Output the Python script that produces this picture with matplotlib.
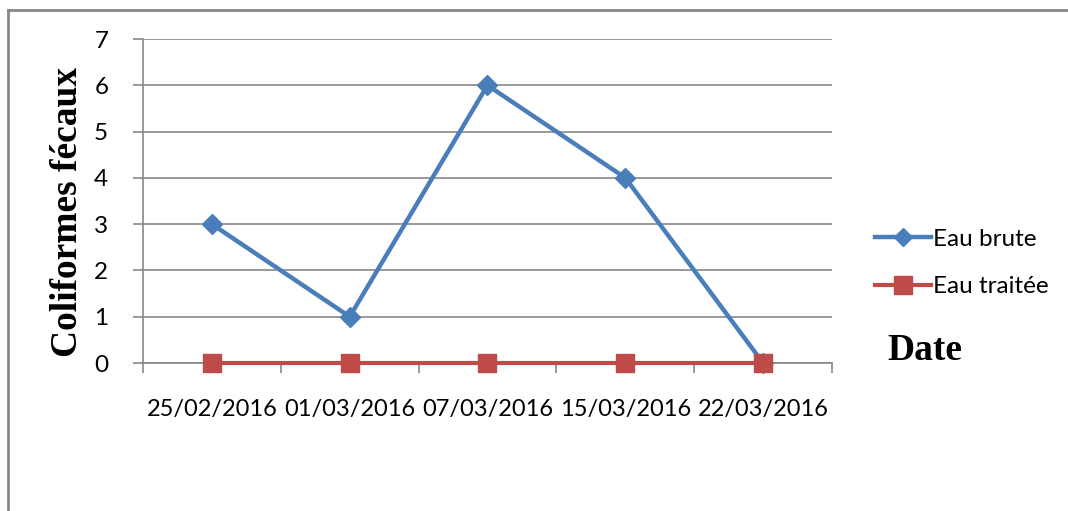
import matplotlib
matplotlib.use("Agg")
from matplotlib import pyplot as plt
from matplotlib.lines import Line2D

dates = ["25/02/2016", "01/03/2016", "07/03/2016", "15/03/2016", "22/03/2016"]
eau_brute = [3, 1, 6, 4, 0]
eau_traitee = [0, 0, 0, 0, 0]

blue = "#4A7EBB"
red = "#BE4B48"
grey = "#878787"

fig = plt.figure(figsize=(10.68, 5.11), dpi=100)
ax = fig.add_axes([143 / 1068, 1 - 363 / 511, (832 - 143) / 1068, (363 - 39) / 511])

x = list(range(len(dates)))
ax.plot(x, eau_brute, color=blue, lw=3.2, marker="D", ms=10, mfc=blue, mec=blue,
        label="Eau brute", zorder=3, clip_on=False)
ax.plot(x, eau_traitee, color=red, lw=3.0, marker="s", ms=13, mfc=red, mec=red,
        label="Eau traitée", zorder=4, clip_on=False)

ax.set_xlim(-0.5, len(dates) - 0.5)
ax.set_ylim(0, 7)
ax.set_yticks(range(0, 8))
ax.yaxis.grid(True, color=grey, lw=1.2)
ax.set_axisbelow(True)

# ticks between categories, labels centered under points
ax.set_xticks([i - 0.5 for i in range(len(dates) + 1)])
ax.set_xticklabels([])
ax.set_xticks(x, minor=True)
ax.set_xticklabels(dates, minor=True, fontsize=17, family="Lato")
ax.tick_params(axis="x", which="minor", length=0, pad=26)
ax.tick_params(axis="x", which="major", length=7, color=grey, width=1.2, direction="out")
ax.tick_params(axis="y", length=7, color=grey, width=1.2, labelsize=17.5, pad=18)
for lab in ax.get_yticklabels():
    lab.set_family("Lato")

for s in ["top", "right"]:
    ax.spines[s].set_visible(False)
ax.spines["left"].set_color(grey)
ax.spines["bottom"].set_color(grey)
ax.spines["left"].set_linewidth(1.2)
ax.spines["bottom"].set_linewidth(1.2)

fig.text(68 / 1068, 1 - 212 / 511, "Coliformes fécaux", rotation=90, ha="center", va="center",
         fontsize=27, fontweight="bold", family="Liberation Serif")
fig.text(925 / 1068, 1 - 350 / 511, "Date", ha="center", va="center",
         fontsize=27, fontweight="bold", family="Liberation Serif")

leg = fig.legend(loc="center left", bbox_to_anchor=(853 / 1068, 1 - 263 / 511), frameon=False,
                 prop={"family": "Lato", "size": 17.5}, handlelength=2.3, handletextpad=0.1,
                 labelspacing=1.1, markerscale=0.95)

# outer frame (left and top edges visible)
fig.add_artist(Line2D([8 / 1068, 8 / 1068], [0, 1 - 10 / 511], transform=fig.transFigure,
                      color=grey, lw=2))
fig.add_artist(Line2D([8 / 1068, 1], [1 - 10 / 511, 1 - 10 / 511], transform=fig.transFigure,
                      color=grey, lw=2))

fig.savefig("out.png", dpi=100)
